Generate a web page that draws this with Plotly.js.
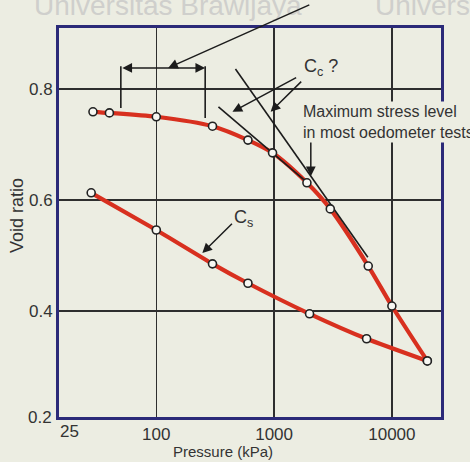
<!DOCTYPE html>
<html><head><meta charset="utf-8">
<script src="https://cdn.plot.ly/plotly-3.0.1.min.js"></script>
<style>html,body{margin:0;padding:0;background:#ecede2;}</style>
</head><body><div id="chart" style="width:470px;height:462px;"></div>
<script>
// Loading (virgin compression) branch
const loadPressure = [29, 40, 100, 300, 600, 970, 1900, 3000, 6300, 10000, 20000];
const loadVoid = [0.759, 0.757, 0.750, 0.733, 0.708, 0.685, 0.631, 0.584, 0.481, 0.409, 0.310];
// Unloading (swelling) branch
const unloadPressure = [20000, 6100, 2000, 600, 300, 100, 28];
const unloadVoid = [0.310, 0.350, 0.395, 0.450, 0.485, 0.546, 0.613];
// Candidate Cc tangent lines
const tangentAPressure = [337, 1850];
const tangentAVoid = [0.768, 0.634];
const tangentBPressure = [470, 6250];
const tangentBVoid = [0.836, 0.497];
// Pre-consolidation range bracket
const bracketPressure = [50, 260];
const bracketTop = [0.841, 0.841];
const bracketBottom = [0.766, 0.748];
const bracketVoid = 0.838;
// Pointer arrows  [tailP, tailE, headP, headE]
const pointerTop = [2050, 0.953, 126, 0.838];
const pointerCcA = [1585, 0.822, 443, 0.759];
const pointerCcB = [1750, 0.816, 934, 0.759];
const pointerStress = [2050, 0.708, 2050, 0.643];
const pointerCs = [452, 0.560, 246, 0.5045];
// Ticks
const xTickVals = [100, 1000, 10000];
const xTickText = ['100', '1000', '10000'];
const yTickVals = [0.4, 0.6, 0.8];
const yTickText = ['0.4', '0.6', '0.8'];

const RED = '#d8301f';
const INK = '#1c1c1c';
const TXT = '#333333';
const BG = '#ecede2';
const FONT = 'Liberation Sans, Arial, Helvetica, sans-serif';
const lg = Math.log10;

const marker = {symbol: 'circle', size: 8, color: '#f7f7f2', line: {color: '#222', width: 1.6}};

const traces = [
  {x: loadPressure, y: loadVoid, mode: 'lines', line: {color: RED, width: 4.2, shape: 'spline', smoothing: 0.8}, hoverinfo: 'skip'},
  {x: unloadPressure, y: unloadVoid, mode: 'lines', line: {color: RED, width: 4.2, shape: 'spline', smoothing: 0.5}, hoverinfo: 'skip'},
  {x: tangentAPressure, y: tangentAVoid, mode: 'lines', line: {color: INK, width: 1.6}},
  {x: tangentBPressure, y: tangentBVoid, mode: 'lines', line: {color: INK, width: 1.6}},
  {x: [bracketPressure[0], bracketPressure[0], null, bracketPressure[1], bracketPressure[1]],
   y: [bracketTop[0], bracketBottom[0], null, bracketTop[1], bracketBottom[1]],
   mode: 'lines', line: {color: INK, width: 1.6}},
  {x: loadPressure, y: loadVoid, mode: 'markers', marker: marker},
  {x: unloadPressure, y: unloadVoid, mode: 'markers', marker: marker}
];

function arrow(p, extra) {
  return Object.assign({
    xref: 'x', yref: 'y', axref: 'x', ayref: 'y',
    x: lg(p[2]), y: p[3], ax: lg(p[0]), ay: p[1],
    text: '', showarrow: true, arrowhead: 2, arrowsize: 1.3, arrowwidth: 1.5,
    arrowcolor: INK, standoff: 0, startstandoff: 0
  }, extra || {});
}

const annotations = [
  // watermark
  {xref: 'paper', yref: 'paper', x: -0.07, y: 1.012, xanchor: 'left', yanchor: 'bottom',
   text: 'Universitas Brawijaya', showarrow: false, font: {family: FONT, size: 28, color: '#cfcfcc'}},
  {xref: 'paper', yref: 'paper', x: 0.822, y: 1.012, xanchor: 'left', yanchor: 'bottom',
   text: 'Universitas', showarrow: false, font: {family: FONT, size: 28, color: '#cfcfcc'}},
  arrow(pointerTop),
  Object.assign(arrow([bracketPressure[0], bracketVoid, bracketPressure[1], bracketVoid]), {arrowside: 'end+start'}),
  arrow(pointerCcA),
  arrow(pointerCcB),
  arrow(pointerStress),
  arrow(pointerCs),
  {xref: 'x', yref: 'y', x: lg(2500), y: 0.838, xanchor: 'center', yanchor: 'middle',
   text: 'C<sub>c</sub> ?', showarrow: false, font: {family: FONT, size: 18, color: TXT}},
  {xref: 'x', yref: 'y', x: lg(550), y: 0.567, xanchor: 'center', yanchor: 'middle',
   text: 'C<sub>s</sub>', showarrow: false, font: {family: FONT, size: 18, color: TXT}},
  {xref: 'paper', yref: 'paper', x: 0.633, y: 0.7596, xanchor: 'left', yanchor: 'middle', align: 'left',
   text: 'Maximum stress level<br>in most oedometer tests', showarrow: false,
   bgcolor: BG, borderpad: 1, font: {family: FONT, size: 16, color: TXT}},
  // corner tick labels
  {xref: 'paper', yref: 'paper', x: -0.003, y: 0, xanchor: 'left', yanchor: 'top', yshift: -3,
   text: '25', showarrow: false, font: {family: FONT, size: 17, color: TXT}},
  {xref: 'paper', yref: 'paper', x: 0, y: 0, xanchor: 'right', yanchor: 'middle', xshift: -5,
   text: '0.2', showarrow: false, font: {family: FONT, size: 17, color: TXT}},
  // axis titles
  {xref: 'paper', yref: 'paper', x: (223 - 59) / 382, y: 0, xanchor: 'center', yanchor: 'top', yshift: -24,
   text: 'Pressure (kPa)', showarrow: false, font: {family: FONT, size: 15, color: TXT}},
  {xref: 'paper', yref: 'paper', x: 0, y: (417 - 216) / 389, xanchor: 'center', yanchor: 'middle', xshift: -42,
   text: 'Void ratio', textangle: -90, showarrow: false, font: {family: FONT, size: 18, color: TXT}}
];

const axisCommon = {
  showline: true, linecolor: '#2b2a78', linewidth: 3, mirror: true,
  showgrid: true, gridcolor: '#2e2e2e', gridwidth: 1.5,
  zeroline: false, ticks: '', tickfont: {family: FONT, size: 17, color: TXT}
};

const layout = {
  width: 470, height: 462,
  margin: {l: 59, r: 29, t: 28, b: 45},
  paper_bgcolor: BG, plot_bgcolor: BG,
  showlegend: false,
  font: {family: FONT, color: TXT},
  xaxis: Object.assign({}, axisCommon, {type: 'log', range: [1.174, 4.417],
    tickvals: xTickVals, ticktext: xTickText}),
  yaxis: Object.assign({}, axisCommon, {range: [0.209, 0.91],
    tickvals: yTickVals, ticktext: yTickText}),
  annotations: annotations
};

Plotly.newPlot('chart', traces, layout, {staticPlot: true, displayModeBar: false});
</script></body></html>
